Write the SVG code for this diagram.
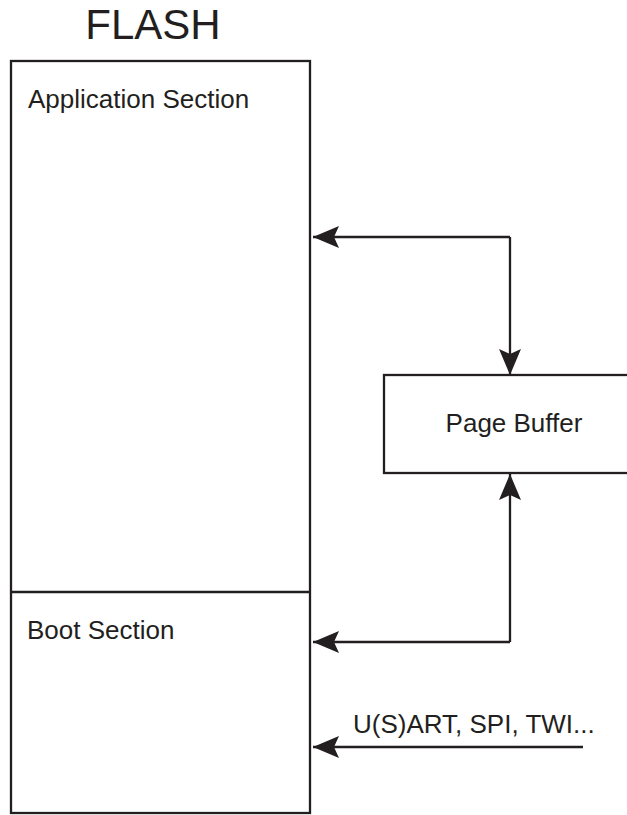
<svg xmlns="http://www.w3.org/2000/svg" width="627" height="815" viewBox="0 0 627 815">
<style>
.box{fill:#fff;stroke:#231f20;stroke-width:2.3}
.line{fill:none;stroke:#231f20;stroke-width:2.3}
.t{font-family:"Liberation Sans",Arial,sans-serif;fill:#231f20;font-size:26px}
</style>
<defs>
<marker id="ah" viewBox="0 0 26 22" refX="26" refY="11" markerWidth="26" markerHeight="22" markerUnits="userSpaceOnUse" orient="auto">
<path d="M0,0 L26,11 L0,22 L5,11 Z" fill="#231f20"/>
</marker>
</defs>
<rect width="627" height="815" fill="#fff"/>
<text class="t" x="153" y="39" style="font-size:42px" text-anchor="middle">FLASH</text>
<g id="flash">
<rect class="box" x="11" y="61" width="299" height="752"/>
</g>
<g id="application">
<text class="t" x="28" y="108">Application Section</text>
</g>
<g id="boot">
<line class="line" x1="11" y1="592" x2="310" y2="592"/>
<text class="t" x="27" y="639">Boot Section</text>
</g>
<g id="pagebuffer">
<rect class="box" x="384" y="375" width="250" height="98"/>
<text class="t" x="514" y="432" text-anchor="middle">Page Buffer</text>
</g>
<g id="connectors">
<path class="line" d="M510,237 L313,237" marker-end="url(#ah)"/>
<path class="line" d="M510,237 L510,375" marker-end="url(#ah)"/>
<path class="line" d="M510,642 L510,474" marker-end="url(#ah)"/>
<path class="line" d="M510,642 L313,642" marker-end="url(#ah)"/>
<path class="line" d="M583,747 L313,747" marker-end="url(#ah)"/>
<text class="t" x="353" y="733">U(S)ART, SPI, TWI...</text>
</g>
</svg>
